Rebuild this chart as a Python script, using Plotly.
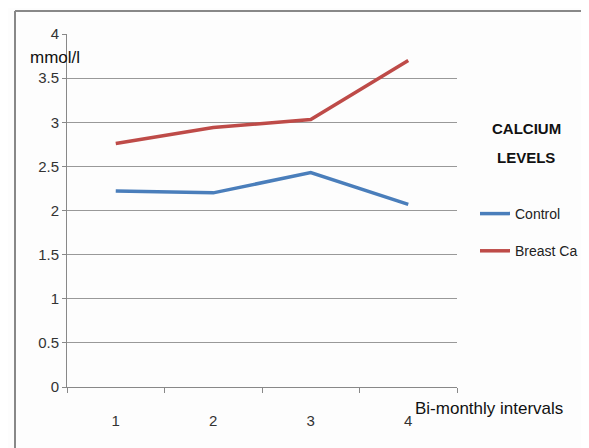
import plotly.graph_objects as go

categories = ["1", "2", "3", "4"]
control = [2.22, 2.20, 2.43, 2.07]
breast_ca = [2.76, 2.94, 3.03, 3.70]
y_ticks = [0, 0.5, 1, 1.5, 2, 2.5, 3, 3.5, 4]
y_tick_text = ["0", "0.5", "1", "1.5", "2", "2.5", "3", "3.5", "4"]

OFF = 8  # page body margin
W, H = 581, 440
L, R, T, B = 67 - OFF, 589 - 457, 34 - OFF, 448 - 387
pw, ph = W - L - R, H - T - B

def px_x(p):
    return (p - OFF - L) / pw

def px_y(p):
    return (H - B - (p - OFF)) / ph

font = "Liberation Sans Narrow, Liberation Sans, Arial"

fig = go.Figure()
fig.add_trace(go.Scatter(x=categories, y=control, name="Control", mode="lines",
                         legendgroup="a",
                         line=dict(color="#4a7ebb", width=3.5)))
fig.add_trace(go.Scatter(x=categories, y=breast_ca, name="Breast Ca", mode="lines",
                         legendgroup="b",
                         line=dict(color="#be4b48", width=3.5)))

fig.update_layout(
    width=W, height=H,
    margin=dict(l=L, r=R, t=T, b=B, pad=0, autoexpand=False),
    paper_bgcolor="#fdfdfd", plot_bgcolor="#fdfdfd",
    font=dict(family=font, size=14, color="#222"),
    showlegend=True,
    legend=dict(x=px_x(475), y=px_y(198), xanchor="left", yanchor="top",
                bgcolor="rgba(0,0,0,0)", font=dict(size=14, color="#222"),
                tracegroupgap=16, itemwidth=30),
    xaxis=dict(type="category", tickson="boundaries", ticks="outside", ticklen=5,
               tickcolor="#888", showline=True, linecolor="#888", linewidth=1,
               showgrid=False, ticklabelstandoff=20,
               tickfont=dict(size=15, color="#333"), range=[-0.5, 3.5]),
    yaxis=dict(range=[0, 4], tickvals=y_ticks, ticktext=y_tick_text,
               ticks="outside", ticklen=4, tickcolor="#888",
               showline=True, linecolor="#888", linewidth=1,
               showgrid=True, gridcolor="#999", gridwidth=1,
               tickfont=dict(size=15, color="#333"), zeroline=False),
    shapes=[
        dict(type="line", xref="paper", yref="paper", x0=px_x(15), x1=px_x(15),
             y0=px_y(11), y1=px_y(470), line=dict(color="#888", width=2)),
        dict(type="line", xref="paper", yref="paper", x0=px_x(15), x1=px_x(620),
             y0=px_y(11), y1=px_y(11), line=dict(color="#888", width=2)),
    ],
    annotations=[
        dict(text="mmol/l", xref="paper", yref="paper", x=px_x(28), y=px_y(58),
             xanchor="left", yanchor="middle", showarrow=False,
             font=dict(size=17, color="#111")),
        dict(text="Bi-monthly intervals", xref="paper", yref="paper", x=px_x(413),
             y=px_y(408), xanchor="left", yanchor="middle", showarrow=False,
             font=dict(size=17, color="#111")),
        dict(text="<b>CALCIUM</b>", xref="paper", yref="paper",
             x=px_x(526), y=px_y(128), xanchor="center", yanchor="middle",
             showarrow=False, font=dict(size=15, color="#111")),
        dict(text="<b>LEVELS</b>", xref="paper", yref="paper",
             x=px_x(526), y=px_y(157), xanchor="center", yanchor="middle",
             showarrow=False, font=dict(size=15, color="#111")),
    ],
)

fig.write_html("out.html")
